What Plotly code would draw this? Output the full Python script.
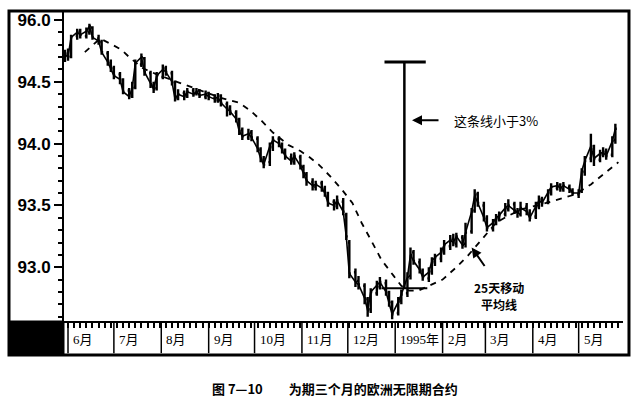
import pandas as pd
import plotly.graph_objects as go

# one bar every second trading day
DATES = pd.bdate_range('1994-05-30', '1995-05-26')[::2]

OPEN = [94.68, 94.73, 94.71, 94.87, 94.91, 94.87, 94.90, 94.94, 94.85, 94.82,
        94.73, 94.65, 94.61, 94.56, 94.51, 94.43, 94.39, 94.46, 94.64, 94.69,
        94.57, 94.47, 94.45, 94.54, 94.61, 94.57, 94.49, 94.37, 94.41, 94.39,
        94.43, 94.41, 94.43, 94.38, 94.41, 94.37, 94.35, 94.39, 94.32, 94.29,
        94.25, 94.19, 94.11, 94.05, 94.09, 94.04, 93.95, 93.87, 93.85, 93.97,
        94.04, 93.99, 93.94, 93.89, 93.85, 93.89, 93.81, 93.75, 93.69, 93.65,
        93.68, 93.63, 93.58, 93.53, 93.49, 93.53, 93.42, 93.20, 92.96, 92.89,
        92.85, 92.74, 92.66, 92.79, 92.84, 92.87, 92.79, 92.71, 92.63, 92.73,
        92.79, 92.93, 93.12, 93.04, 92.97, 92.91, 92.97, 93.04, 93.07, 93.13,
        93.17, 93.23, 93.19, 93.24, 93.19, 93.29, 93.46, 93.59, 93.50, 93.39,
        93.31, 93.37, 93.39, 93.43, 93.47, 93.51, 93.45, 93.43, 93.49, 93.44,
        93.41, 93.49, 93.55, 93.53, 93.61, 93.64, 93.67, 93.63, 93.65, 93.62,
        93.59, 93.62, 93.77, 93.88, 93.96, 93.87, 93.91, 93.94, 93.91, 94.03]
HIGH = [94.76, 94.77, 94.88, 94.93, 94.93, 94.94, 94.97, 94.95, 94.88, 94.84,
        94.75, 94.68, 94.63, 94.58, 94.53, 94.45, 94.50, 94.68, 94.73, 94.70,
        94.59, 94.50, 94.58, 94.64, 94.63, 94.59, 94.51, 94.44, 94.43, 94.45,
        94.45, 94.45, 94.44, 94.43, 94.42, 94.40, 94.41, 94.40, 94.34, 94.31,
        94.27, 94.21, 94.13, 94.12, 94.11, 94.06, 93.97, 93.90, 94.01, 94.06,
        94.06, 94.01, 93.96, 93.92, 93.93, 93.91, 93.83, 93.77, 93.72, 93.70,
        93.70, 93.66, 93.61, 93.55, 93.58, 93.56, 93.44, 93.22, 92.99, 92.93,
        92.87, 92.76, 92.83, 92.89, 92.92, 92.90, 92.81, 92.73, 92.76, 92.82,
        92.96, 93.16, 93.14, 93.07, 92.99, 93.00, 93.08, 93.11, 93.16, 93.22,
        93.26, 93.27, 93.28, 93.26, 93.36, 93.48, 93.63, 93.61, 93.53, 93.42,
        93.39, 93.43, 93.45, 93.52, 93.55, 93.53, 93.48, 93.53, 93.52, 93.47,
        93.53, 93.58, 93.57, 93.63, 93.68, 93.69, 93.68, 93.69, 93.67, 93.64,
        93.63, 93.80, 93.90, 94.08, 93.99, 93.95, 93.97, 93.96, 94.06, 94.16]
LOW = [94.66, 94.67, 94.69, 94.84, 94.85, 94.85, 94.88, 94.84, 94.80, 94.72,
       94.63, 94.58, 94.52, 94.48, 94.40, 94.36, 94.37, 94.44, 94.62, 94.55,
       94.45, 94.41, 94.43, 94.52, 94.55, 94.47, 94.34, 94.35, 94.35, 94.37,
       94.38, 94.39, 94.37, 94.36, 94.35, 94.33, 94.33, 94.30, 94.22, 94.23,
       94.17, 94.07, 94.03, 94.03, 94.02, 93.93, 93.85, 93.80, 93.82, 93.94,
       93.97, 93.92, 93.87, 93.83, 93.83, 93.79, 93.72, 93.66, 93.62, 93.62,
       93.61, 93.57, 93.49, 93.46, 93.47, 93.42, 93.22, 92.91, 92.84, 92.82,
       92.70, 92.60, 92.63, 92.77, 92.82, 92.77, 92.68, 92.58, 92.61, 92.70,
       92.76, 92.90, 93.02, 92.95, 92.89, 92.88, 92.94, 93.01, 93.04, 93.10,
       93.14, 93.17, 93.16, 93.15, 93.16, 93.27, 93.44, 93.49, 93.37, 93.29,
       93.29, 93.34, 93.37, 93.41, 93.45, 93.43, 93.40, 93.41, 93.42, 93.37,
       93.39, 93.47, 93.49, 93.51, 93.58, 93.62, 93.61, 93.61, 93.60, 93.58,
       93.56, 93.60, 93.74, 93.85, 93.82, 93.85, 93.89, 93.87, 93.89, 94.00]
CLOSE = [94.72, 94.70, 94.86, 94.90, 94.88, 94.91, 94.95, 94.86, 94.83, 94.74,
         94.66, 94.60, 94.55, 94.52, 94.42, 94.38, 94.45, 94.65, 94.70, 94.58,
         94.48, 94.44, 94.55, 94.60, 94.58, 94.50, 94.36, 94.40, 94.38, 94.42,
         94.40, 94.42, 94.39, 94.40, 94.38, 94.36, 94.38, 94.33, 94.28, 94.26,
         94.20, 94.10, 94.06, 94.08, 94.05, 93.96, 93.88, 93.83, 93.98, 94.03,
         94.00, 93.95, 93.90, 93.86, 93.90, 93.82, 93.76, 93.70, 93.66, 93.67,
         93.64, 93.60, 93.52, 93.50, 93.54, 93.45, 93.25, 92.95, 92.88, 92.86,
         92.75, 92.65, 92.80, 92.85, 92.88, 92.80, 92.72, 92.62, 92.72, 92.78,
         92.92, 93.10, 93.05, 92.98, 92.92, 92.96, 93.05, 93.08, 93.12, 93.18,
         93.22, 93.20, 93.25, 93.18, 93.28, 93.45, 93.58, 93.52, 93.40, 93.32,
         93.36, 93.40, 93.42, 93.48, 93.50, 93.46, 93.44, 93.48, 93.45, 93.40,
         93.50, 93.54, 93.52, 93.60, 93.65, 93.66, 93.64, 93.66, 93.63, 93.60,
         93.60, 93.78, 93.86, 93.98, 93.88, 93.92, 93.93, 93.90, 94.02, 94.12]

# 25 day moving average
MA_DATES = ['1994-06-12', '1994-06-22', '1994-06-30', '1994-07-06', '1994-07-11',
            '1994-07-20', '1994-07-29', '1994-08-11', '1994-08-21', '1994-09-09',
            '1994-09-21', '1994-09-28', '1994-10-06', '1994-10-13', '1994-10-23',
            '1994-10-31', '1994-11-06', '1994-11-12', '1994-11-20', '1994-11-27',
            '1994-12-04', '1994-12-10', '1994-12-17', '1994-12-23', '1994-12-31',
            '1995-01-05', '1995-01-10', '1995-01-16', '1995-01-23', '1995-02-01',
            '1995-02-10', '1995-02-18', '1995-02-27', '1995-03-08', '1995-03-15',
            '1995-03-25', '1995-04-07', '1995-04-18', '1995-04-29', '1995-05-09',
            '1995-05-17', '1995-05-27']
MA_VALUES = [94.74, 94.85, 94.80, 94.76, 94.70, 94.61, 94.56, 94.50, 94.46, 94.37,
             94.33, 94.27, 94.18, 94.09, 93.99, 93.94, 93.89, 93.83, 93.73, 93.63,
             93.52, 93.36, 93.20, 93.06, 92.93, 92.85, 92.81, 92.81, 92.85, 92.90,
             93.00, 93.10, 93.23, 93.36, 93.41, 93.47, 93.51, 93.55, 93.59, 93.67,
             93.75, 93.85]

MONTHS = ['6月', '7月', '8月', '9月', '10月', '11月', '12月', '1995年', '2月', '3月', '4月', '5月']
MONTH_STARTS = ['1994-06-01', '1994-07-01', '1994-08-01', '1994-09-01', '1994-10-01',
                '1994-11-01', '1994-12-01', '1995-01-01', '1995-02-01', '1995-03-01',
                '1995-04-01', '1995-05-01']

Y_TICKS = [93.0, 93.5, 94.0, 94.5, 95.0]
Y_TICKTEXT = ['93.0', '93.5', '94.0', '94.5', '96.0']

# the "less than 3%" bracket
BRACKET_X = '1995-01-07'
BRACKET_TOP = 94.66
BRACKET_BOTTOM = 92.83

CJK = 'Noto Sans CJK SC'
BAND = -0.104  # bottom of the month strip, paper coords


def main():
    fig = go.Figure()
    # thin line through the closes so the bars read as one dense trace
    fig.add_trace(go.Scatter(x=DATES, y=CLOSE, mode='lines',
                             line=dict(color='black', width=1.6),
                             hoverinfo='skip', showlegend=False))
    fig.add_trace(go.Ohlc(x=DATES, open=OPEN, high=HIGH, low=LOW, close=CLOSE,
                          increasing=dict(line=dict(color='black', width=2.4)),
                          decreasing=dict(line=dict(color='black', width=2.4)),
                          tickwidth=0.5, hoverinfo='skip', showlegend=False))
    fig.add_trace(go.Scatter(x=MA_DATES, y=MA_VALUES, mode='lines',
                             line=dict(color='black', width=1.8, dash='6px,6px'),
                             hoverinfo='skip', showlegend=False))

    shapes = []
    # outer frame and the black corner box
    shapes.append(dict(type='rect', xref='paper', yref='paper', x0=-0.0984, x1=1.0107,
                       y0=-0.110, y1=1.003, line=dict(color='black', width=3)))
    shapes.append(dict(type='rect', xref='paper', yref='paper', x0=-0.0984, x1=0,
                       y0=-0.110, y1=0, fillcolor='black', line=dict(color='black', width=1)))
    # month boxes
    for d in MONTH_STARTS:
        shapes.append(dict(type='line', xref='x', yref='paper', x0=d, x1=d, y0=BAND, y1=0,
                           line=dict(color='black', width=1.5)))
    # bracket
    shapes.append(dict(type='line', xref='x', yref='y', x0=BRACKET_X, x1=BRACKET_X,
                       y0=BRACKET_BOTTOM, y1=BRACKET_TOP, line=dict(color='black', width=2.5)))
    shapes.append(dict(type='line', xref='x', yref='y', x0='1994-12-25', x1='1995-01-21',
                       y0=BRACKET_TOP, y1=BRACKET_TOP, line=dict(color='black', width=3)))
    shapes.append(dict(type='line', xref='x', yref='y', x0='1994-12-23', x1='1995-01-22',
                       y0=BRACKET_BOTTOM, y1=BRACKET_BOTTOM, line=dict(color='black', width=2)))

    annots = []
    for name, d in zip(MONTHS, MONTH_STARTS):
        annots.append(dict(text=name, x=d, xref='x', y=-0.06, yref='paper', xanchor='left',
                           yanchor='middle', xshift=3, showarrow=False,
                           font=dict(family='Liberation Serif, ' + CJK, size=13, color='black')))
    annots.append(dict(text='', x='1995-01-12', y=94.19, xref='x', yref='y', showarrow=True,
                       ax=28, ay=0, arrowhead=2, arrowsize=1, arrowwidth=2, arrowcolor='black'))
    annots.append(dict(text='这条线小于3%', x='1995-02-07', y=94.19, xref='x', yref='y',
                       xanchor='left', yanchor='middle', showarrow=False,
                       font=dict(family=CJK, size=13, color='black')))
    annots.append(dict(text='', x='1995-02-20', y=93.16, xref='x', yref='y', showarrow=True,
                       ax=14, ay=20, arrowhead=2, arrowsize=1, arrowwidth=2, arrowcolor='black'))
    annots.append(dict(text='25天移动', x='1995-03-10', y=92.84, xref='x', yref='y',
                       yanchor='middle', showarrow=False, borderpad=0,
                       font=dict(family=CJK, size=12, color='black', weight='bold')))
    annots.append(dict(text='平均线', x='1995-03-10', y=92.70, xref='x', yref='y',
                       yanchor='middle', showarrow=False, borderpad=0,
                       font=dict(family=CJK, size=12, color='black', weight='bold')))
    annots.append(dict(text='图 7—10　　为期三个月的欧洲无限期合约', x=0.5, xref='paper',
                       y=-0.22, yref='paper', xanchor='center', yanchor='middle',
                       showarrow=False, xshift=-9,
                       font=dict(family=CJK, size=13, color='black', weight='bold')))

    fig.update_layout(
        width=632, height=403,
        margin=dict(l=64, r=9, t=12, b=82),
        paper_bgcolor='white', plot_bgcolor='white',
        shapes=shapes, annotations=annots,
        xaxis=dict(range=['1994-05-29 09:00', '1995-05-30'], rangeslider=dict(visible=False),
                   showgrid=False, zeroline=False, showline=True, linecolor='black', linewidth=2,
                   ticks='outside', ticklen=5, tickwidth=1.5, tickcolor='black',
                   tick0='1994-06-01', dtick=4 * 86400000, showticklabels=False),
        yaxis=dict(range=[92.565, 95.065], showgrid=False, zeroline=False,
                   showline=True, linecolor='black', linewidth=2,
                   tickvals=Y_TICKS, ticktext=Y_TICKTEXT,
                   ticks='outside', ticklen=8, tickwidth=2, tickcolor='black',
                   minor=dict(ticks='outside', ticklen=4, tickcolor='black', dtick=0.1, tick0=93.0),
                   tickfont=dict(family='Liberation Sans', size=17, color='black', weight='bold')),
    )
    # page margin off so the figure sits at the window's top-left corner
    fig.write_html('out.html', config={'displayModeBar': False},
                   post_script="document.body.style.margin='0';")


if __name__ == '__main__':
    main()
